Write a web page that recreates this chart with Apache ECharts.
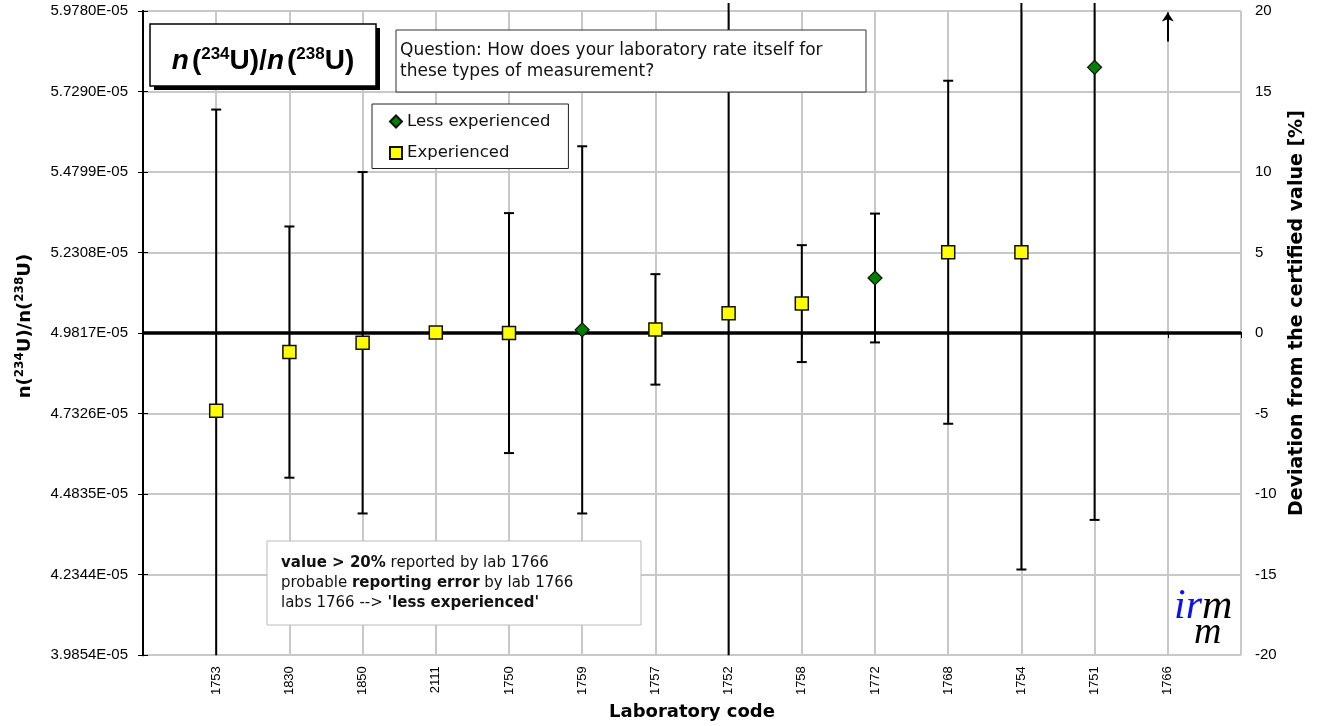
<!DOCTYPE html>
<html>
<head>
<meta charset="utf-8">
<script src="https://cdn.jsdelivr.net/npm/echarts@6/dist/echarts.min.js"></script>
<style>
  html, body { margin: 0; padding: 0; background: #fff; }
  #chart { width: 1319px; height: 726px; }
</style>
</head>
<body>
<div id="chart"></div>
<script>
// Participating laboratories, in plotting order
const labs = ['1753', '1830', '1850', '2111', '1750', '1759', '1757', '1752', '1758', '1772', '1768', '1754', '1751', '1766'];
// Self-assessment reported by each laboratory
const experience = ['exp', 'exp', 'exp', 'exp', 'exp', 'less', 'exp', 'exp', 'exp', 'less', 'exp', 'exp', 'less', 'less'];
// Deviation from the certified n(234U)/n(238U) value, in %  (1766 is off scale, > 20 %)
const deviation = [-4.82, -1.18, -0.6, 0.03, 0.0, 0.2, 0.23, 1.23, 1.83, 3.42, 5.02, 5.02, 16.5, null];
// Expanded uncertainty of each result, in %
const uncertainty = [18.7, 7.8, 10.6, 0, 7.45, 11.4, 3.43, 25.0, 3.63, 4.0, 10.65, 19.7, 28.1, null];
// Left-hand axis: n(234U)/n(238U) ratio at -20, -15, ..., +20 % of the certified value
const ratioTickLabels = ['3.9854E-05', '4.2344E-05', '4.4835E-05', '4.7326E-05', '4.9817E-05',
                         '5.2308E-05', '5.4799E-05', '5.7290E-05', '5.9780E-05'];
const offScaleLab = '1766';

const DEV_MIN = -20, DEV_MAX = 20, DEV_STEP = 5;

function groupPoints(group) {
  const pts = [];
  labs.forEach((lab, i) => {
    if (experience[i] === group && deviation[i] != null) pts.push([i + 1, deviation[i]]);
  });
  return pts;
}

const errorData = [];
labs.forEach((lab, i) => {
  if (deviation[i] != null && uncertainty[i]) {
    errorData.push([i + 1, deviation[i] - uncertainty[i], deviation[i] + uncertainty[i]]);
  }
});

// vertical uncertainty bar with end caps; ends running off the plot get no cap
function renderErrorBar(params, api) {
  const cs = params.coordSys;
  const x = api.coord([api.value(0), 0])[0];
  const yLo = api.coord([api.value(0), api.value(1)])[1];
  const yHi = api.coord([api.value(0), api.value(2)])[1];
  const top = cs.y, bottom = cs.y + cs.height;
  const hiClipped = yHi < top;
  const loClipped = yLo > bottom;
  const y1 = hiClipped ? top - 8 : yHi;
  const y2 = loClipped ? bottom : yLo;
  const cap = 5;
  const style = { stroke: '#000', lineWidth: 2 };
  const children = [{ type: 'line', shape: { x1: x, y1: y1, x2: x, y2: y2 }, style: style }];
  if (!hiClipped) children.push({ type: 'line', shape: { x1: x - cap, y1: yHi, x2: x + cap, y2: yHi }, style: style });
  if (!loClipped) children.push({ type: 'line', shape: { x1: x - cap, y1: yLo, x2: x + cap, y2: yLo }, style: style });
  return { type: 'group', children: children };
}

const arrowX = labs.indexOf(offScaleLab) + 1;

const chart = echarts.init(document.getElementById('chart'), null, { renderer: 'canvas' });

const tickFont = 'Liberation Sans, Arial, sans-serif';
const boxFont = 'DejaVu Sans, Verdana, sans-serif';

const option = {
  animation: false,
  backgroundColor: '#fff',
  grid: { left: 143, right: 78, top: 11, bottom: 66 },
  legend: {
    data: ['Less experienced', 'Experienced'],
    orient: 'vertical',
    left: 372, top: 104,
    padding: [9, 18, 7, 17],
    itemGap: 14.5,
    itemWidth: 12, itemHeight: 12,
    borderColor: '#222', borderWidth: 1,
    backgroundColor: '#fff',
    textStyle: { fontFamily: boxFont, fontSize: 16.5, color: '#111' }
  },
  xAxis: [{
    type: 'value', min: 0, max: labs.length + 1, interval: 1,
    name: 'Laboratory code', nameLocation: 'middle', nameGap: 43,
    nameTextStyle: { fontFamily: boxFont, fontWeight: 'bold', fontSize: 18, color: '#000' },
    axisLine: { show: true, lineStyle: { color: '#000', width: 2 } },
    axisTick: { show: true, length: 5, lineStyle: { color: '#000', width: 1 } },
    axisLabel: {
      rotate: 90, margin: 11, fontFamily: tickFont, fontSize: 13, color: '#000',
      formatter: v => (v >= 1 && v <= labs.length) ? labs[v - 1] : ''
    },
    splitLine: { show: true, lineStyle: { color: '#c8c8c8', width: 2 } }
  }, {
    type: 'value', min: 0, max: labs.length + 1, position: 'top',
    axisLine: { show: true, lineStyle: { color: '#000', width: 2 } },
    axisTick: { show: false }, axisLabel: { show: false }, splitLine: { show: false }
  }],
  yAxis: [{
    type: 'value', min: DEV_MIN, max: DEV_MAX, interval: DEV_STEP, position: 'left',
    name: 'n({s|234}U)/n({s|238}U)', nameLocation: 'middle', nameGap: 107, nameRotate: 90,
    nameTextStyle: {
      fontFamily: boxFont, fontWeight: 'bold', fontSize: 18, color: '#000', padding: [0, 0, 0, 14],
      rich: { s: { fontFamily: boxFont, fontWeight: 'bold', fontSize: 12, color: '#000', padding: [0, 0, 10, 0] } }
    },
    axisLine: { show: true, lineStyle: { color: '#000', width: 2 } },
    axisTick: { show: true, length: 5, lineStyle: { color: '#000', width: 1 } },
    axisLabel: {
      margin: 15, fontFamily: tickFont, fontSize: 15, color: '#000',
      formatter: v => ratioTickLabels[Math.round((v - DEV_MIN) / DEV_STEP)]
    },
    splitLine: { show: true, lineStyle: { color: '#c8c8c8', width: 2 } }
  }, {
    type: 'value', min: DEV_MIN, max: DEV_MAX, interval: DEV_STEP, position: 'right',
    name: 'Deviation from the certified value [%]', nameLocation: 'middle', nameGap: 42, nameRotate: 90,
    nameTextStyle: { fontFamily: boxFont, fontWeight: 'bold', fontSize: 19, color: '#000', padding: [0, 0, 0, 40] },
    axisLine: { show: true, lineStyle: { color: '#000', width: 2 } },
    axisTick: { show: true, length: 5, lineStyle: { color: '#000', width: 1 } },
    axisLabel: { margin: 14, fontFamily: tickFont, fontSize: 15, color: '#000' },
    splitLine: { show: false }
  }],
  series: [{
    name: 'uncertainty',
    type: 'custom',
    xAxisIndex: 0, yAxisIndex: 1,
    renderItem: renderErrorBar,
    data: errorData,
    z: 3,
    silent: true,
    markLine: {
      silent: true, symbol: 'none', animation: false,
      label: { show: false },
      lineStyle: { color: '#000', width: 3.5, type: 'solid' },
      data: [{ yAxis: 0 }]
    }
  }, {
    name: 'off scale',
    type: 'lines',
    coordinateSystem: 'cartesian2d',
    xAxisIndex: 0, yAxisIndex: 1,
    symbol: ['none', 'arrow'], symbolSize: 9,
    lineStyle: { color: '#000', width: 2, opacity: 1 },
    data: [{ coords: [[arrowX, DEV_MAX - 1.9], [arrowX, DEV_MAX - 0.1]] }],
    z: 4,
    silent: true
  }, {
    name: 'Less experienced',
    type: 'scatter',
    xAxisIndex: 0, yAxisIndex: 1,
    symbol: 'diamond', symbolSize: 14,
    itemStyle: { color: '#008000', borderColor: '#111', borderWidth: 1.2, opacity: 1 },
    data: groupPoints('less'),
    z: 5
  }, {
    name: 'Experienced',
    type: 'scatter',
    xAxisIndex: 0, yAxisIndex: 1,
    symbol: 'rect', symbolSize: 13,
    itemStyle: { color: '#ffff00', borderColor: '#111', borderWidth: 1.5, opacity: 1 },
    data: groupPoints('exp'),
    z: 5
  }],
  graphic: [
    // title box with drop shadow
    { type: 'rect', shape: { x: 154, y: 28, width: 226, height: 62 }, style: { fill: '#000' }, z: 100 },
    { type: 'rect', shape: { x: 150, y: 24, width: 226, height: 62 }, style: { fill: '#fff', stroke: '#000', lineWidth: 1.5 }, z: 101 },
    {
      type: 'text', x: 263, y: 61, z: 102,
      style: {
        text: '{n|n}{b|(}{s|234}{b|U)/}{n|n}{b|(}{s|238}{b|U)}',
        align: 'center', verticalAlign: 'middle',
        rich: {
          n: { fontFamily: tickFont, fontStyle: 'italic', fontWeight: 'bold', fontSize: 28, fill: '#000', padding: [0, 3, 0, 0] },
          b: { fontFamily: tickFont, fontWeight: 'bold', fontSize: 28, fill: '#000' },
          s: { fontFamily: tickFont, fontWeight: 'bold', fontSize: 17, fill: '#000', padding: [0, 0, 14, 0] }
        }
      }
    },
    // question box
    { type: 'rect', shape: { x: 396, y: 30, width: 470, height: 62 }, style: { fill: '#fff', stroke: '#333', lineWidth: 1 }, z: 100 },
    {
      type: 'text', x: 400, y: 40, z: 101,
      style: {
        text: 'Question: How does your laboratory rate itself for\nthese types of measurement?',
        fontFamily: boxFont, fontSize: 17, lineHeight: 21, fill: '#111', align: 'left', verticalAlign: 'top'
      }
    },
    // note box
    { type: 'rect', shape: { x: 267, y: 541, width: 374, height: 84 }, style: { fill: '#fff', stroke: '#bbb', lineWidth: 1 }, z: 100 },
    {
      type: 'text', x: 281, y: 553, z: 101,
      style: {
        text: '{b|value > 20%} reported by lab 1766\nprobable {b|reporting error} by lab 1766\nlabs 1766 --> {b|\'less experienced\'}',
        fontFamily: boxFont, fontSize: 15, lineHeight: 20, fill: '#111', align: 'left', verticalAlign: 'top',
        rich: { b: { fontFamily: boxFont, fontWeight: 'bold', fontSize: 15, lineHeight: 20, fill: '#111' } }
      }
    },
    // institute logo
    {
      type: 'text', x: 1174, y: 607, z: 101,
      style: {
        text: '{b|ir}{k|m}', align: 'left', verticalAlign: 'middle',
        rich: {
          b: { fontFamily: 'Liberation Serif, serif', fontStyle: 'italic', fontSize: 42, fill: '#1010f0' },
          k: { fontFamily: 'Liberation Serif, serif', fontStyle: 'italic', fontSize: 42, fill: '#000' }
        }
      }
    },
    {
      type: 'text', x: 1194, y: 633, z: 101,
      style: { text: 'm', fontFamily: 'Liberation Serif, serif', fontStyle: 'italic', fontSize: 38, fill: '#000', align: 'left', verticalAlign: 'middle' }
    }
  ]
};

chart.setOption(option);
</script>
</body>
</html>
